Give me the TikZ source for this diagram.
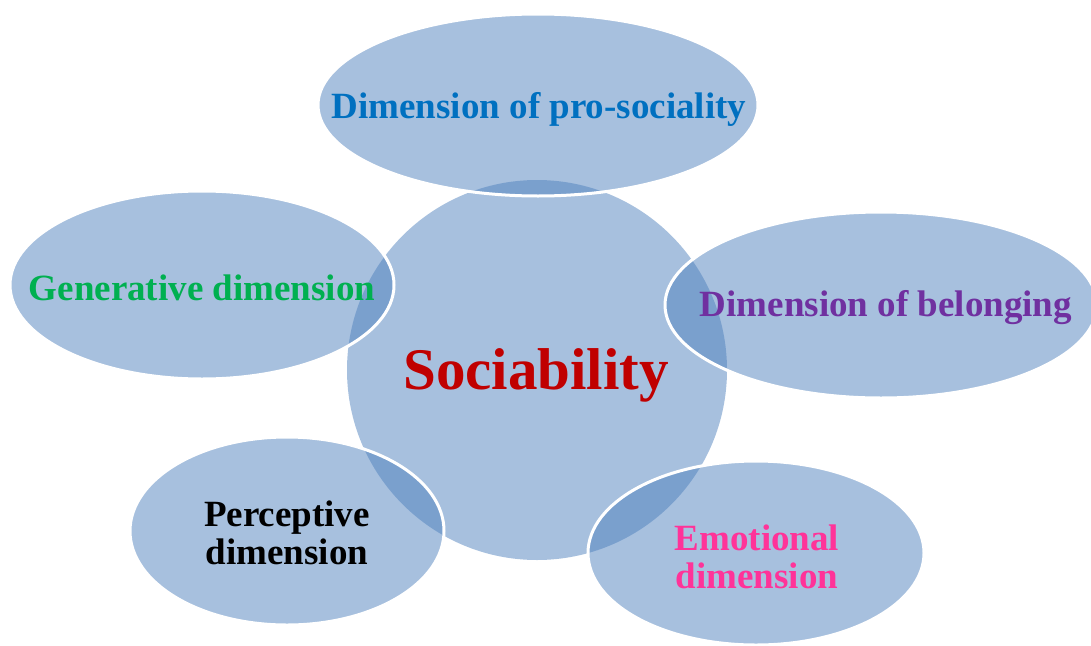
\documentclass[tikz,border=0pt]{standalone}
\usepackage{fontspec}
\setmainfont{Liberation Serif}
\usetikzlibrary{shapes.geometric}
\definecolor{bub}{HTML}{4F81BD}
\definecolor{cred}{HTML}{C00000}
\definecolor{cblue}{HTML}{0070C0}
\definecolor{cgreen}{HTML}{00B050}
\definecolor{cpurple}{HTML}{7030A0}
\definecolor{cpink}{HTML}{FF3399}
\tikzset{
  hub/.style={circle, fill=bub, fill opacity=0.5, inner sep=0pt, minimum size=380pt},
  dim/.style={ellipse, fill=bub, fill opacity=0.5, draw=white, draw opacity=1, line width=3pt, inner sep=0pt},
  lbl/.style={font=\bfseries\fontsize{37}{38}\selectfont, align=center, inner sep=0pt},
}
\begin{document}
\begin{tikzpicture}[x=1pt,y=-1pt]
\useasboundingbox (0,0) rectangle (1091,645);
\node[hub] (hub) at (537,370) {};
\node[dim, minimum width=440pt, minimum height=182pt] (top) at (538,105) {};
\node[dim, minimum width=384pt, minimum height=188pt] (left) at (202,285) {};
\node[dim, minimum width=432pt, minimum height=186pt] (right) at (881,305) {};
\node[dim, minimum width=314pt, minimum height=188pt] (bl) at (287,531) {};
\node[dim, minimum width=336pt, minimum height=184pt] (br) at (756,553) {};
\node[lbl, text=cred, font=\bfseries\fontsize{59}{60}\selectfont] (hubt) at (536,375) {Sociability};
\node[lbl, text=cblue] (topt) at (539,109) {Dimension of pro-sociality};
\node[lbl, text=cgreen] (leftt) at (202,288) {Generative dimension};
\node[lbl, text=cpurple] (rightt) at (886,308) {Dimension of belonging};
\node[lbl, text=black] (blt) at (287,533) {Perceptive\\dimension};
\node[lbl, text=cpink] (brt) at (757,557) {Emotional\\dimension};
\end{tikzpicture}
\end{document}
